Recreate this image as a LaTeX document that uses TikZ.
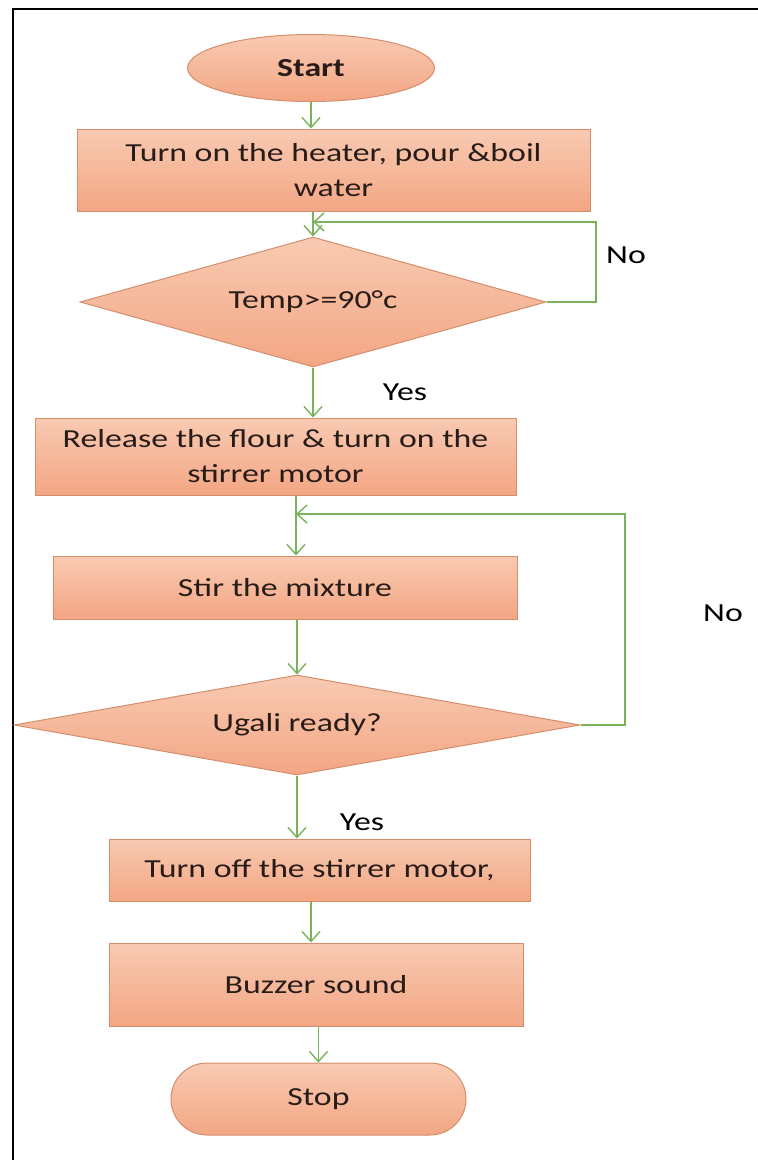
\documentclass[tikz,border=0pt]{standalone}
\usepackage{fontspec}
\setmainfont{Carlito}[FakeStretch=1.3]
\usetikzlibrary{
  shapes.geometric,
  shapes.misc,
  arrows.meta,
  calc
}
\definecolor{cFillTop}{RGB}{248,202,178}
\definecolor{cFillBot}{RGB}{243,166,132}
\definecolor{cEdge}{RGB}{212,142,108}
\definecolor{cFlow}{RGB}{122,178,92}
\definecolor{cInk}{RGB}{40,28,24}

\begin{document}
\begin{tikzpicture}[
  x=1pt, y=-1pt,
  font=\fontsize{26}{35}\selectfont,
  >={Straight Barb[length=10pt,width=18pt]},
  pbox/.style={
    rectangle, draw=cEdge, top color=cFillTop, bottom color=cFillBot,
    line width=1pt, inner sep=0pt, align=center, text=cInk
  },
  dbox/.style={
    diamond, draw=cEdge, top color=cFillTop, bottom color=cFillBot,
    line width=1pt, inner sep=0pt, align=center, text=cInk
  },
  tbox/.style={
    draw=cEdge, top color=cFillTop, bottom color=cFillBot,
    line width=1pt, inner sep=0pt, text=cInk
  },
  flow/.style={draw=cFlow, line width=1.4pt, ->},
  lbl/.style={text=black, inner sep=0pt}
]
\useasboundingbox (0,0) rectangle (758,1160);

% Frame
\draw[line width=2pt] (13,1160) -- (13,9) -- (758,9);

% Steps
\node[tbox, ellipse, minimum width=247pt, minimum height=67pt] (start) at (311,68) {\bfseries Start};
\node[pbox, minimum width=513pt, minimum height=82pt] (heat) at (333.5,170)
  {Turn on the heater, pour \&boil\\water};
\node[dbox, aspect=3.58, minimum width=466pt, minimum height=130pt] (temp) at (313,302) {Temp>=90°c};
\node[pbox, minimum width=481pt, minimum height=77pt] (flour) at (275.5,456.5)
  {Release the flour \& turn on the\\stirrer motor};
\node[pbox, minimum width=464pt, minimum height=63pt] (stir) at (285,587.5) {Stir the mixture};
\node[dbox, aspect=5.66, minimum width=566pt, minimum height=100pt] (ready) at (297,725) {Ugali ready?};
\node[pbox, minimum width=421pt, minimum height=62pt] (off) at (319.5,870) {Turn off the stirrer motor,};
\node[pbox, minimum width=414pt, minimum height=83pt] (buzz) at (316,984.5) {Buzzer sound};
\node[tbox, rounded rectangle, minimum width=295pt, minimum height=72pt] (stop) at (318.5,1099) {Stop};

% Loop corners
\coordinate (loopA) at (596,222);
\coordinate (loopB) at (625,514);
\coordinate (joinB) at (296,514);

% Connectors
\draw[flow] (start) -- (start |- heat.north);
\draw[flow] (heat.south -| temp.north) -- (temp.north);
\draw[flow] (temp.east) -| (loopA) -- (loopA -| temp.north);
\draw[flow] (temp.south) -- (temp.south |- flour.north);
\draw[flow] (flour.south -| joinB) -- (stir.north -| joinB);
\draw[flow] (ready.east) -| (loopB) -- (joinB);
\draw[flow] (stir.south -| ready.north) -- (ready.north);
\draw[flow] (ready.south) -- (ready.south |- off.north);
\draw[flow] (off.south -| start) -- (buzz.north -| start);
\draw[flow] (buzz.south -| stop.north) -- (stop.north);

% Labels
\node[lbl] (noA) at (626,255) {No};
\node[lbl] (yesA) at (405,392) {Yes};
\node[lbl] (noB) at (723,613) {No};
\node[lbl] (yesB) at (362,822) {Yes};

\end{tikzpicture}
\end{document}
